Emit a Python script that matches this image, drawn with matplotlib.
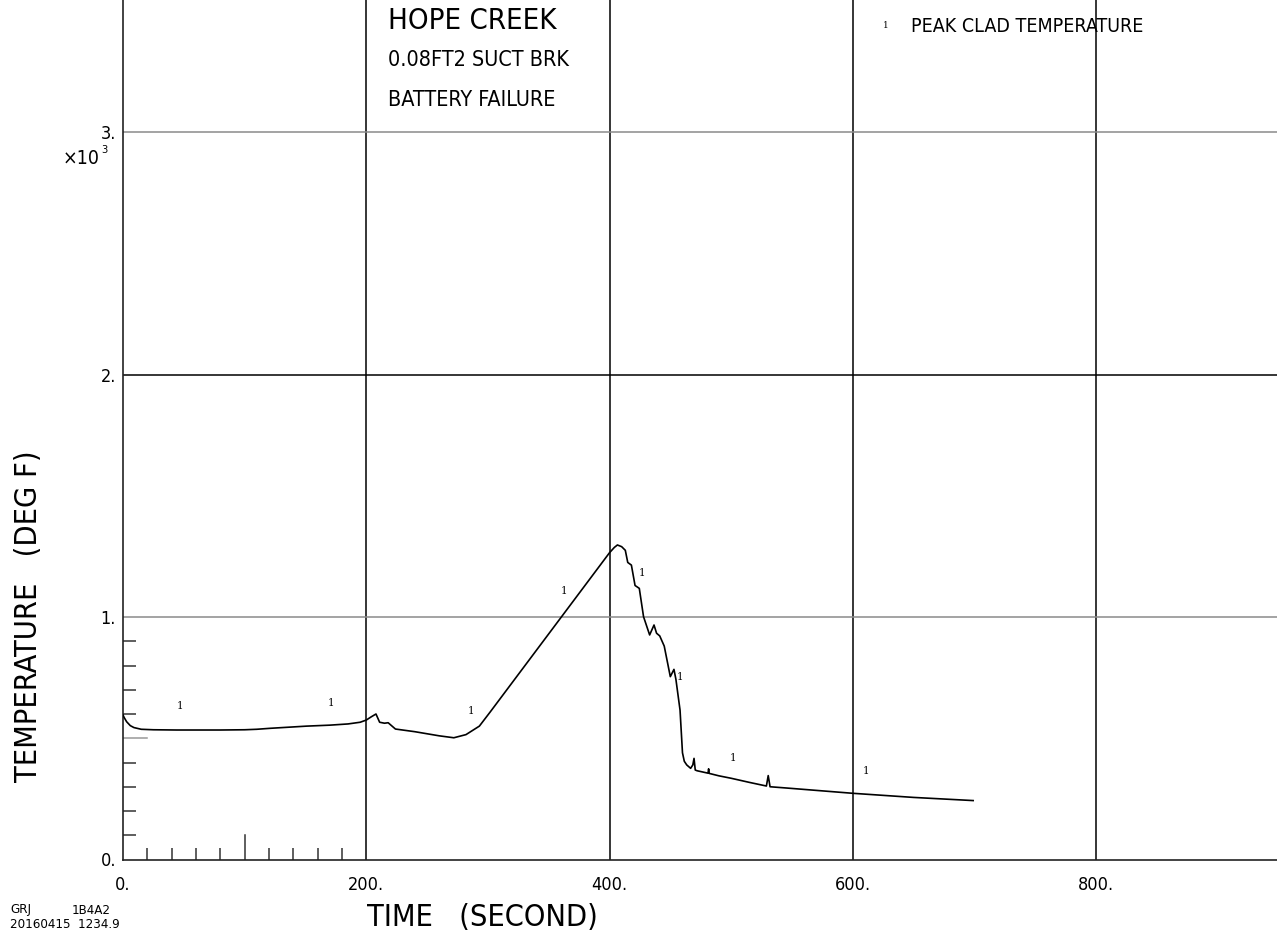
import matplotlib
matplotlib.use("Agg")
import matplotlib.pyplot as plt

# peak clad temperature history
time_s = [0, 1, 3, 6, 9, 15, 25, 44, 80, 100, 110, 121, 151, 170, 185, 195, 200, 204,
          208, 211, 215, 218, 224, 240, 260, 272, 282, 293, 302, 400, 404, 406.5, 410,
          413, 415, 418, 421, 424.5, 428, 433, 436.6, 438.7, 441.3, 445, 450, 453,
          454.6, 458, 460, 461.5, 463.5, 466.7, 468.5, 469.5, 470.5, 472, 481, 481.5,
          482, 490, 500, 515, 529, 530.5, 532, 545, 560, 600, 650, 699]
temp_f = [596, 585, 568, 552, 544, 537, 535, 534, 534, 535, 537, 541, 550, 554, 559, 566,
          575, 588, 600, 566, 562, 564, 538, 527, 510, 502, 515, 550, 609, 1265, 1287,
          1297, 1290, 1275, 1225, 1214, 1130, 1118, 1001, 926, 967, 933, 922, 880, 754,
          784, 743, 616, 440, 405, 390, 376, 390, 417, 369, 366, 356, 374, 355, 345, 335,
          318, 303, 346, 300, 295, 289, 273, 256, 243]

# curve symbol positions
mark_t = [46.9, 171, 286, 362.6, 426.7, 458, 501.5, 611]
mark_y = [633, 645, 612, 1107, 1181, 753, 419, 365]

x_ticks = [0, 200, 400, 600, 800]
x_labels = ["0.", "200.", "400.", "600.", "800."]
y_ticks = [0, 1000, 2000, 3000]
y_labels = ["0.", "1.", "2.", "3."]

W, H = 1277, 941
plt.rcParams["font.family"] = ["DejaVu Sans"]
plt.rcParams["font.stretch"] = "condensed"

fig = plt.figure(figsize=(W / 100, H / 100), dpi=100)
ax = fig.add_axes([123 / W, (H - 859.5) / H, (W - 123) / W, 859.5 / H])
ax.set_xlim(0, (W - 123) / 1.21625)
ax.set_ylim(0, 859.5 / 0.2425)

for s in ["top", "right"]:
    ax.spines[s].set_visible(False)
for s in ["left", "bottom"]:
    ax.spines[s].set_color("#222222")
    ax.spines[s].set_linewidth(1.2)

# grid lines
for xv in x_ticks[1:]:
    ax.axvline(xv, color="black", lw=1.1, zorder=1)
for yv, c in zip(y_ticks[1:], ["#8a8a8a", "black", "#8a8a8a"]):
    ax.axhline(yv, color=c, lw=1.1, zorder=1)

ax.set_xticks(x_ticks)
ax.set_xticklabels(x_labels, fontsize=13)
ax.set_yticks(y_ticks)
ax.set_yticklabels(y_labels, fontsize=13)
ax.tick_params(axis="x", length=0, pad=12)
ax.tick_params(axis="y", length=0, pad=5)

# inward minor ticks
ax.set_xticks([20, 40, 60, 80, 120, 140, 160, 180], minor=True)
ax.set_yticks([100, 200, 300, 400, 600, 700, 800, 900], minor=True)
ax.tick_params(which="minor", direction="in", length=9, width=1.1, color="#333333")
ax.axvline(100, ymax=25 / 859.5, color="#333333", lw=1.1)
ax.axhline(500, xmax=24 / (W - 123), color="#999999", lw=1.1)

ax.plot(time_s, temp_f, color="black", lw=1.2, zorder=3)
for t, y in zip(mark_t, mark_y):
    ax.text(t, y, "1", fontsize=8, family="DejaVu Serif", ha="center", va="center")


def ftext(px, py, s, **kw):
    fig.text(px / W, 1 - py / H, s, **kw)


ftext(388, 21, "HOPE CREEK", fontsize=21, va="center")
ftext(388, 60, "0.08FT2 SUCT BRK", fontsize=15.5, va="center")
ftext(388, 100, "BATTERY FAILURE", fontsize=15.5, va="center")
ftext(883, 26, "1", fontsize=7, family="DejaVu Serif", va="center")
ftext(911, 26, "PEAK CLAD TEMPERATURE", fontsize=14, va="center")

ftext(100, 158, "×10", fontsize=14, ha="right", va="center")
ftext(101, 150, "3", fontsize=8, ha="left", va="center")

ftext(482, 918, "TIME   (SECOND)", fontsize=22, ha="center", va="center")
ftext(29, 616, "TEMPERATURE   (DEG F)", fontsize=22, ha="center", va="center",
      rotation=90)

ftext(10, 910, "GRJ", fontsize=9.5, va="center")
ftext(72, 910, "1B4A2", fontsize=9.5, va="center")
ftext(10, 924, "20160415  1234.9", fontsize=9.5, va="center")

fig.savefig("out.png", dpi=100)
